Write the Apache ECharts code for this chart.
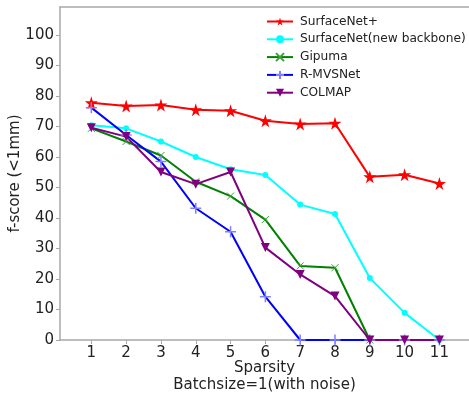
<!DOCTYPE html>
<html>
<head>
<meta charset="utf-8">
<script src="https://cdn.jsdelivr.net/npm/echarts@6/dist/echarts.min.js"></script>
<style>
  html, body { margin: 0; padding: 0; background: #fff; }
  #chart { width: 469px; height: 393px; }
</style>
</head>
<body>
<div id="chart"></div>
<script>
// Sparsity levels on the x axis
const sparsity = [1, 2, 3, 4, 5, 6, 7, 8, 9, 10, 11];
const yTicks = [0, 10, 20, 30, 40, 50, 60, 70, 80, 90, 100];

// f-score (<1mm) per method
const surfaceNetPlus = [77.8, 76.7, 77.1, 75.5, 75.2, 71.9, 70.8, 71.1, 53.5, 54.2, 51.3];
const surfaceNetNew  = [70.4, 69.4, 65.1, 60.0, 56.0, 54.1, 44.4, 41.3, 20.3, 8.9, 0];
const gipuma         = [69.4, 65.1, 60.5, 51.9, 47.2, 39.5, 24.3, 23.7, 0, null, null];
const rmvsnet        = [76.2, 67.2, 58.5, 43.2, 35.5, 14.2, 0, 0, 0, 0, 0];
const colmap         = [69.6, 66.7, 55.1, 51.1, 55.1, 30.3, 21.5, 14.4, 0, 0, 0];

const seriesNames = ['SurfaceNet+', 'SurfaceNet(new backbone)', 'Gipuma', 'R-MVSNet', 'COLMAP'];

const starPath = 'path://M50,0 L61,35 L98,35 L68,57 L79,91 L50,70 L21,91 L32,57 L2,35 L39,35 Z';
const xPath = 'path://M0,0 L10,10 M10,0 L0,10';
const plusPath = 'path://M5,0 L5,10 M0,5 L10,5';

function pairs(vals) {
  return sparsity.map((x, i) => [x, vals[i]]);
}

function lineSeries(name, vals, color, symbol, size, extra) {
  return Object.assign({
    name: name,
    type: 'line',
    data: pairs(vals),
    symbol: symbol,
    symbolSize: size,
    showAllSymbol: true,
    connectNulls: false,
    lineStyle: { color: color, width: 2 },
    itemStyle: { color: color, borderColor: color, borderWidth: 0 },
    emphasis: { disabled: true },
    animation: false,
    z: 2
  }, extra || {});
}

const font = 'DejaVu Sans';
const axisGray = '#a8a8a8';

const chart = echarts.init(document.getElementById('chart'), null, { renderer: 'canvas' });
chart.setOption({
  backgroundColor: '#ffffff',
  animation: false,
  textStyle: { fontFamily: font },
  grid: { left: 60, right: 0, top: 7, bottom: 53, containLabel: false, outerBoundsMode: 'none' },
  legend: {
    orient: 'vertical',
    left: 261,
    top: 9,
    itemWidth: 26,
    itemHeight: 10,
    itemGap: 2.8,
    data: seriesNames,
    textStyle: { fontFamily: font, fontSize: 12.2, lineHeight: 15, color: '#222', padding: [0, 0, 0, 2] }
  },
  xAxis: [{
    type: 'value',
    min: 0.1,
    max: 11.85,
    position: 'bottom',
    name: 'Sparsity\nBatchsize=1(with noise)',
    nameLocation: 'middle',
    nameGap: 20,
    nameMoveOverlap: false,
    nameTextStyle: { fontFamily: font, fontSize: 15, color: '#222', lineHeight: 17 },
    axisLine: { show: true, lineStyle: { color: axisGray, width: 1.5 } },
    axisTick: { show: true, length: 4, customValues: sparsity, lineStyle: { color: axisGray } },
    axisLabel: { customValues: sparsity, fontFamily: font, fontSize: 15, color: '#222', margin: 6 },
    splitLine: { show: false }
  }, {
    type: 'value',
    min: 0.1,
    max: 11.85,
    position: 'top',
    axisLine: { show: true, lineStyle: { color: axisGray, width: 1.5 } },
    axisTick: { show: false },
    axisLabel: { show: false },
    splitLine: { show: false }
  }],
  yAxis: {
    type: 'value',
    min: 0,
    max: 109.2,
    name: 'f-score (<1mm)',
    nameLocation: 'middle',
    nameGap: 37,
    nameMoveOverlap: false,
    nameTextStyle: { fontFamily: font, fontSize: 15, color: '#222' },
    axisLine: { show: true, lineStyle: { color: axisGray, width: 1.5 } },
    axisTick: { show: true, length: 4, customValues: yTicks, lineStyle: { color: axisGray } },
    axisLabel: { customValues: yTicks, fontFamily: font, fontSize: 15, color: '#222', margin: 6 },
    splitLine: { show: false }
  },
  series: [
    lineSeries('SurfaceNet+', surfaceNetPlus, '#ff0000', starPath, 13),
    lineSeries('SurfaceNet(new backbone)', surfaceNetNew, '#00ffff', 'circle', 6),
    lineSeries('Gipuma', gipuma, '#008000', xPath, 7, {
      itemStyle: { color: 'none', borderColor: '#3aa03a', borderWidth: 1 }
    }),
    lineSeries('R-MVSNet', rmvsnet, '#0000ff', plusPath, 11, {
      itemStyle: { color: 'none', borderColor: '#8080ff', borderWidth: 1.5 }
    }),
    lineSeries('COLMAP', colmap, '#800080', 'triangle', 9, { symbolRotate: 180 })
  ]
});
</script>
</body>
</html>
